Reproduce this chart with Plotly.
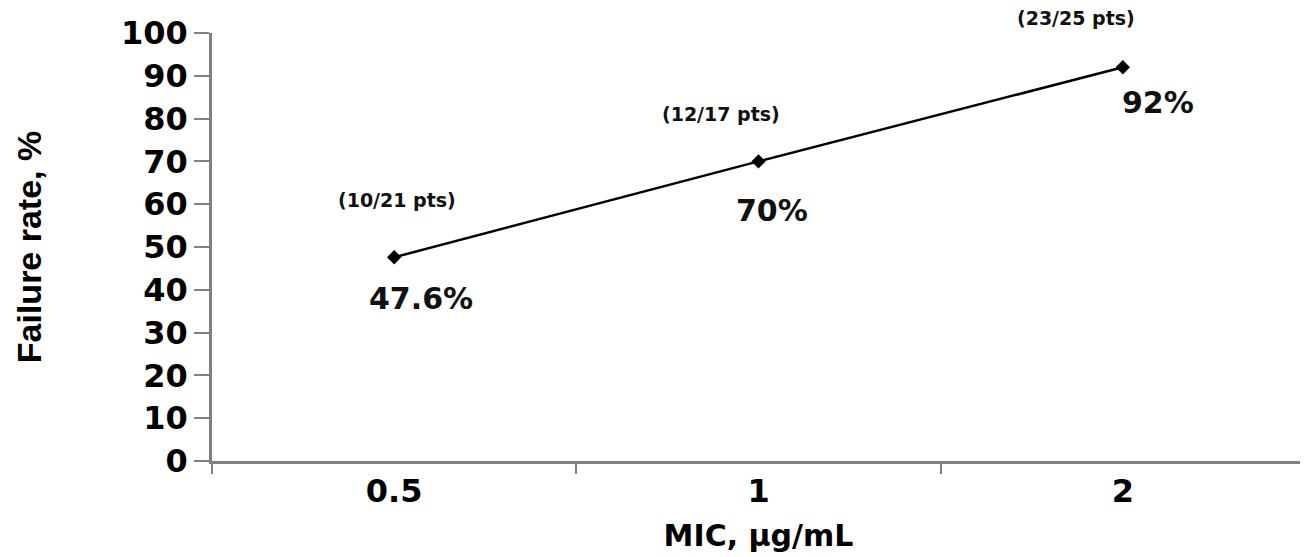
import plotly.graph_objects as go

mic_labels = ["0.5", "1", "2"]
failure_rate = [47.6, 70, 92]
value_labels = ["47.6%", "70%", "92%"]
count_labels = ["(10/21 pts)", "(12/17 pts)", "(23/25 pts)"]

# offsets (px) for the annotation text relative to each point
count_offsets = [(3, 57), (-38, 47), (-47, 49)]
value_offsets = [(27, -41), (13, -49), (35, -35)]

FONT = "DejaVu Sans"

fig = go.Figure()
fig.add_trace(go.Scatter(
    x=mic_labels, y=failure_rate, mode="lines+markers",
    line=dict(color="black", width=2.5),
    marker=dict(symbol="diamond", size=11, color="black"),
    showlegend=False, hoverinfo="skip",
))

for i, (yv, txt, (dx, dy)) in enumerate(zip(failure_rate, count_labels, count_offsets)):
    fig.add_annotation(x=i, y=yv, text=f"<b>{txt}</b>", showarrow=False,
                       xshift=dx, yshift=dy,
                       font=dict(family=FONT, size=19, color="#111"))
for i, (yv, txt, (dx, dy)) in enumerate(zip(failure_rate, value_labels, value_offsets)):
    fig.add_annotation(x=i, y=yv, text=f"<b>{txt}</b>", showarrow=False,
                       xshift=dx, yshift=dy,
                       font=dict(family=FONT, size=30, color="#111"))

fig.update_layout(
    width=1300, height=549,
    margin=dict(l=204, r=3, t=25, b=96),
    paper_bgcolor="white", plot_bgcolor="white",
    font=dict(family=FONT, color="black"),
)
fig.update_xaxes(
    type="category", range=[-0.5, 2.5],
    tickson="boundaries", ticks="outside", ticklen=10, tickwidth=2, tickcolor="#808080",
    showline=True, linecolor="#808080", linewidth=2.5,
    showgrid=False, zeroline=False,
    tickfont=dict(family=FONT, size=32, color="black"),
    tickprefix="<b>", ticksuffix="</b>",
    title=dict(text="<b>MIC, µg/mL</b>", font=dict(family=FONT, size=30, color="black"), standoff=16),
)
fig.update_yaxes(
    range=[0, 100], tickmode="linear", tick0=0, dtick=10,
    ticks="outside", ticklen=15, tickwidth=2, tickcolor="#808080",
    showline=True, linecolor="#808080", linewidth=2.5,
    showgrid=False, zeroline=False,
    tickfont=dict(family=FONT, size=32, color="black"),
    tickprefix="<b>", ticksuffix="</b>",
    title=dict(text="<b>Failure rate, %</b>", font=dict(family="Liberation Sans", size=34, color="black"), standoff=70),
)

fig.write_html("out.html")
